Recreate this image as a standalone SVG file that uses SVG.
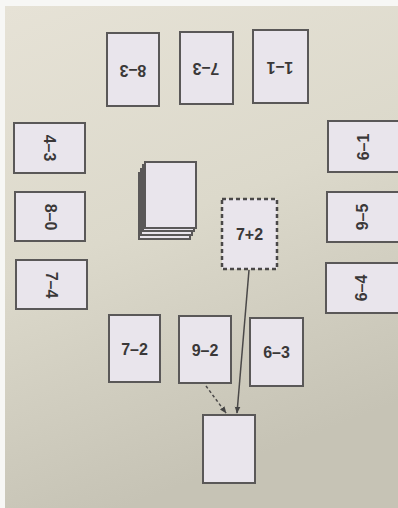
<svg xmlns="http://www.w3.org/2000/svg" width="398" height="508" viewBox="0 0 398 508">
<defs>
<linearGradient id="bg" x1="0" y1="0" x2="0.3" y2="1">
<stop offset="0" stop-color="#e6e2d6"/>
<stop offset="0.5" stop-color="#dcd9cb"/>
<stop offset="1" stop-color="#c6c3b5"/>
</linearGradient>
<marker id="ah" viewBox="0 0 10 10" refX="9" refY="5" markerWidth="7" markerHeight="7" orient="auto" markerUnits="userSpaceOnUse">
<path d="M0,1 L10,5 L0,9 z" fill="#444"/>
</marker>
</defs>
<style>
.card{fill:#e9e5ec;stroke:#5a5858;stroke-width:2}
.dash{fill:#e9e5ec;stroke:#4a4848;stroke-width:2.5;stroke-dasharray:4 3}
.lbl{font-family:"Liberation Sans",Arial,sans-serif;font-weight:bold;font-size:16px;fill:#3a3838;text-anchor:middle;dominant-baseline:central}
.con{fill:none;stroke:#4a4848;stroke-width:1.5}
</style>
<rect x="0" y="0" width="398" height="508" fill="#f7f7f5"/>
<rect x="5" y="6" width="393" height="502" fill="url(#bg)"/>

<g id="card-8-3"><rect class="card" x="107" y="33" width="52" height="73"/><text class="lbl" transform="translate(133,70) rotate(180)">8–3</text></g>
<g id="card-7-3"><rect class="card" x="180" y="32" width="53" height="72"/><text class="lbl" transform="translate(206,68) rotate(180)">7–3</text></g>
<g id="card-1-1"><rect class="card" x="253" y="30" width="55" height="73"/><text class="lbl" transform="translate(280,67) rotate(180)">1–1</text></g>

<g id="card-4-3"><rect class="card" x="14" y="123" width="71" height="50"/><text class="lbl" transform="translate(49,148) rotate(90)">4–3</text></g>
<g id="card-8-0"><rect class="card" x="15" y="192" width="70" height="49"/><text class="lbl" transform="translate(50,217) rotate(90)">8–0</text></g>
<g id="card-7-4"><rect class="card" x="16" y="260" width="71" height="49"/><text class="lbl" transform="translate(51,285) rotate(90)">7–4</text></g>

<g id="card-6-1"><rect class="card" x="328" y="121" width="72" height="51"/><text class="lbl" transform="translate(363,147) rotate(-90)">6–1</text></g>
<g id="card-9-5"><rect class="card" x="327" y="192" width="73" height="50"/><text class="lbl" transform="translate(362,217) rotate(-90)">9–5</text></g>
<g id="card-6-4"><rect class="card" x="326" y="263" width="74" height="50"/><text class="lbl" transform="translate(361,288) rotate(-90)">6–4</text></g>

<g id="deck">
<rect class="card" x="139" y="173" width="51" height="66" fill="#dcd8de"/>
<rect class="card" x="141" y="169" width="51" height="66"/>
<rect class="card" x="143" y="165" width="51" height="66"/>
<rect class="card" x="145" y="162" width="51" height="66"/>
</g>

<g id="card-7+2"><rect class="dash" x="222" y="199" width="55" height="70"/><text class="lbl" x="249.5" y="234">7+2</text></g>

<g id="card-7-2"><rect class="card" x="109" y="315" width="51" height="67"/><text class="lbl" x="134.5" y="349">7–2</text></g>
<g id="card-9-2"><rect class="card" x="179" y="316" width="52" height="67"/><text class="lbl" x="205" y="350">9–2</text></g>
<g id="card-6-3"><rect class="card" x="250" y="318" width="53" height="68"/><text class="lbl" x="276.5" y="352">6–3</text></g>

<g id="card-empty"><rect class="card" x="203" y="415" width="52" height="68"/></g>

<g id="connectors">
<line class="con" x1="249" y1="270" x2="237" y2="413" marker-end="url(#ah)"/>
<line class="con" x1="206" y1="386" x2="226" y2="413" stroke-dasharray="3 2.5" marker-end="url(#ah)"/>
</g>
</svg>
